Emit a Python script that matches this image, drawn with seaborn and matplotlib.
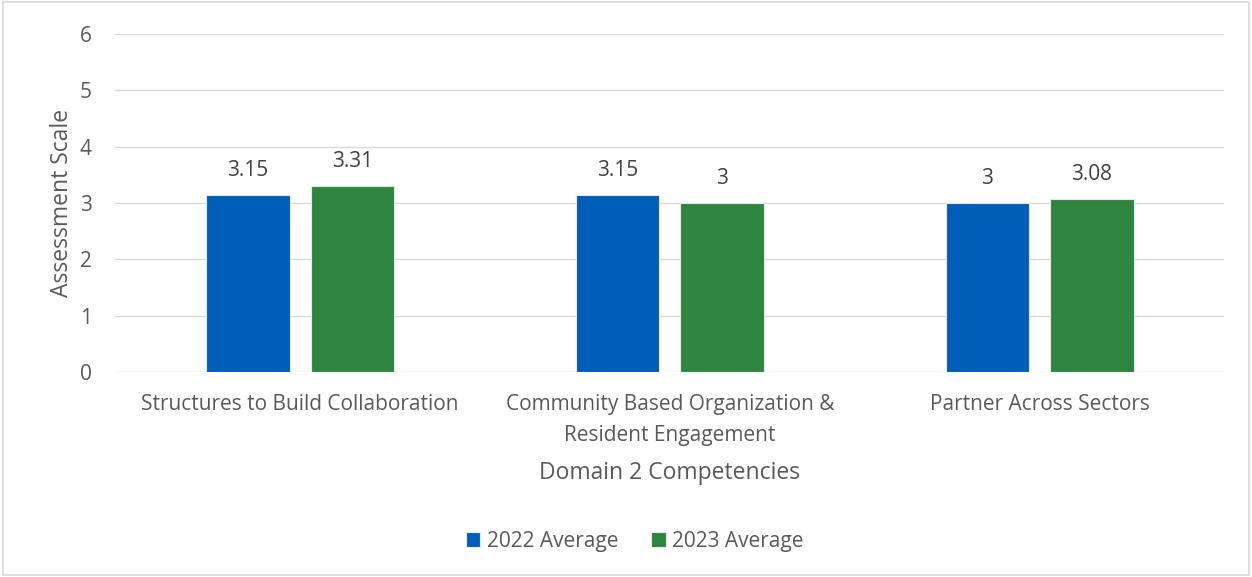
import pandas as pd
import matplotlib.pyplot as plt
import seaborn as sns
from matplotlib.patches import Rectangle

categories = ["Structures to Build Collaboration",
              "Community Based Organization &\nResident Engagement",
              "Partner Across Sectors"]
series = ["2022 Average", "2023 Average"]
avg_2022 = [3.15, 3.15, 3]
avg_2023 = [3.31, 3, 3.08]
label_2022 = ["3.15", "3.15", "3"]
label_2023 = ["3.31", "3", "3.08"]

df = pd.DataFrame({
    "Competency": categories * 2,
    "Series": [series[0]] * 3 + [series[1]] * 3,
    "Value": avg_2022 + avg_2023,
})

sns.set_theme(style="white")
plt.rcParams['font.family'] = ['Open Sans', 'DejaVu Sans']
text_color = "#595959"

fig = plt.figure(figsize=(12.52, 5.77), dpi=100)
ax = fig.add_axes([0.092, 0.355, 0.886, 0.586])

sns.barplot(data=df, x="Competency", y="Value", hue="Series",
            order=categories, hue_order=series, saturation=1,
            palette=["#005EB8", "#2E8540"], width=0.565, gap=0.2,
            edgecolor="#e8e8e8", linewidth=0.8, ax=ax)

for cont, labels in zip(ax.containers, [label_2022, label_2023]):
    ax.bar_label(cont, labels=labels, padding=10, fontsize=15, color="#404040")

ax.set_ylim(0, 6)
ax.set_xlim(-0.5, 2.5)
ax.set_yticks(range(0, 7))
ax.yaxis.grid(True, color="#d9d9d9", linewidth=1)
ax.set_axisbelow(True)
for s in ax.spines.values():
    s.set_visible(False)
ax.tick_params(axis="both", length=0, labelsize=15, labelcolor=text_color)
ax.tick_params(axis="x", pad=16)
ax.tick_params(axis="y", pad=17)
for t in ax.get_xticklabels():
    t.set_linespacing(1.6)
ax.set_xlabel("Domain 2 Competencies", fontsize=16.5, color=text_color, labelpad=11)
ax.set_ylabel("Assessment Scale", fontsize=16.5, color=text_color, labelpad=4)

ax.legend(loc="center", bbox_to_anchor=(0.507, 0.062), bbox_transform=fig.transFigure,
          ncol=2, frameon=False, fontsize=15, handlelength=0.7, handleheight=0.7,
          handletextpad=0.3, columnspacing=1.6, labelcolor=text_color)

fig.patches.append(Rectangle((0.002, 0.003), 0.996, 0.994, transform=fig.transFigure,
                             fill=False, edgecolor="#d9d9d9", linewidth=1.2))

fig.savefig("out.png", dpi=100, facecolor="white")
